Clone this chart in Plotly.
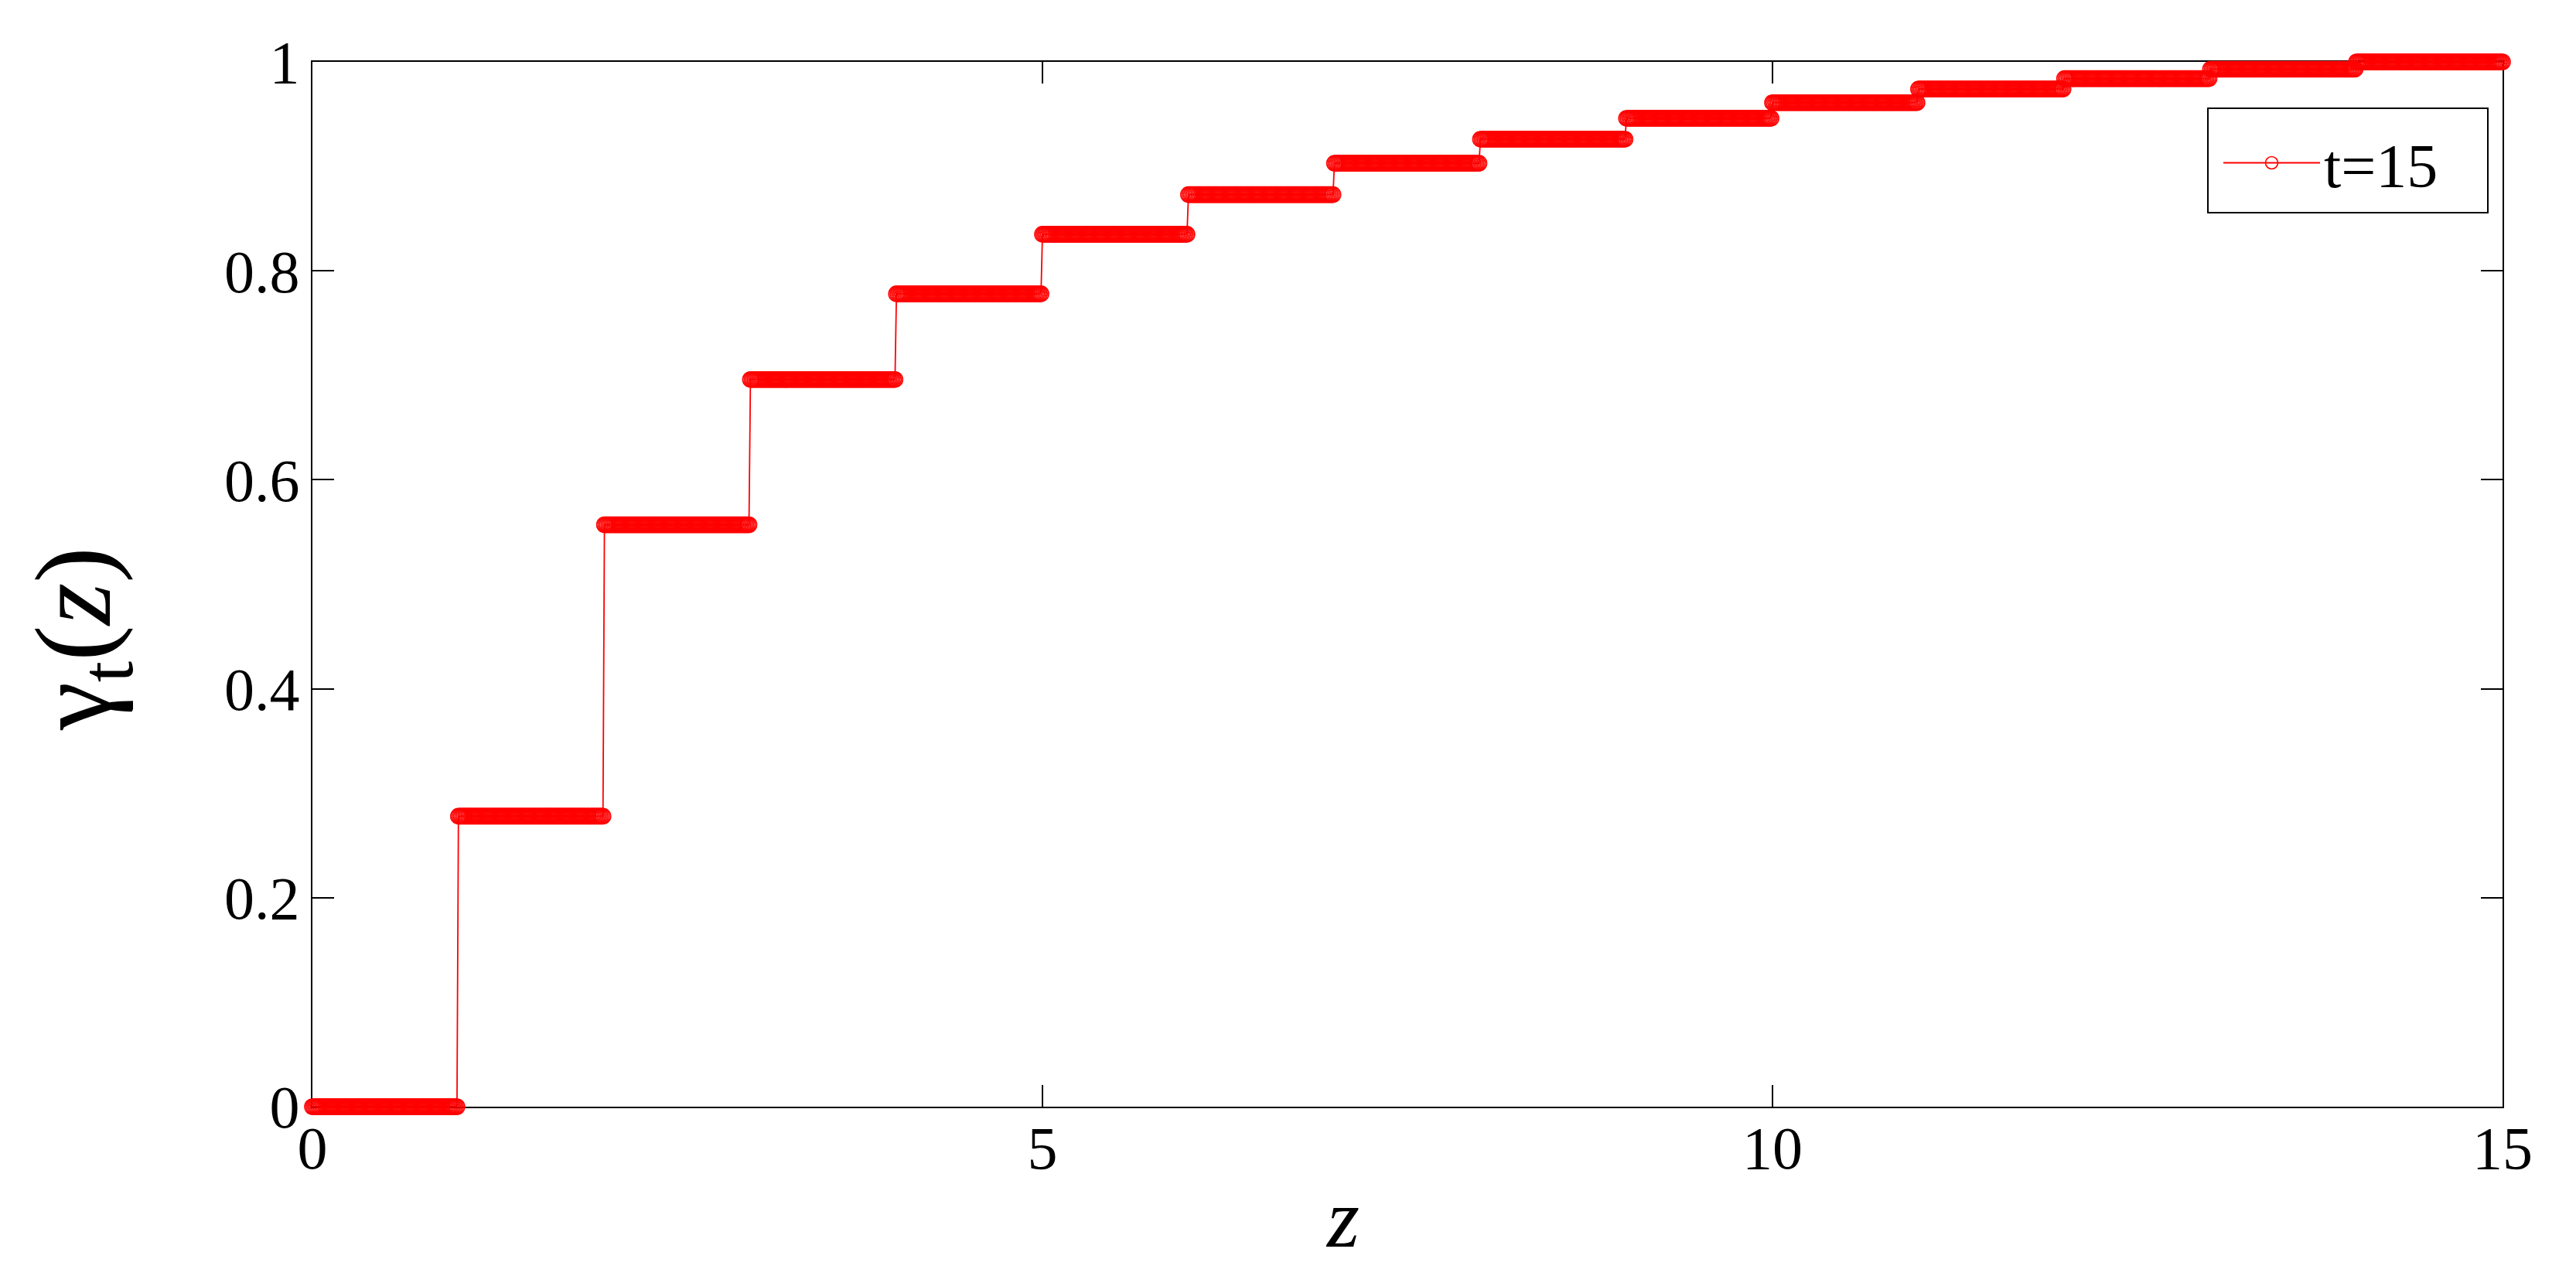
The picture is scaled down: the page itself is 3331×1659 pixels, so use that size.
import plotly.graph_objects as go
import numpy as np

# step function gamma_t(z) for t=15, one level per unit interval of z
step_starts = [0, 1, 2, 3, 4, 5, 6, 7, 8, 9, 10, 11, 12, 13, 14]
levels = [0.0, 0.278, 0.557, 0.696, 0.778, 0.835, 0.873, 0.903,
          0.926, 0.946, 0.961, 0.974, 0.984, 0.993, 1.0]
z_end = 15
dz = 0.01  # sampling interval of the plotted curve

x_ticks = [0, 5, 10, 15]
y_ticks = [0, 0.2, 0.4, 0.6, 0.8, 1]
y_ticktext = ['0', '0.2', '0.4', '0.6', '0.8', '1']

z = np.round(np.arange(0, z_end + dz / 2, dz), 4)
idx = np.searchsorted(np.array(step_starts), z, side='right') - 1
gamma = np.array(levels)[idx]

W, H = 3331, 1659
L, R, T, B = 396, 103, 72, 236
pw = W - L - R
ph = H - T - B


def px_x(v):
    return (v - L) / pw


def px_y(v):
    return (H - B - v) / ph


fig = go.Figure()
fig.add_trace(go.Scatter(
    x=z, y=gamma,
    mode='lines+markers',
    name='t=15',
    line=dict(color='#ff0000', width=1.8),
    marker=dict(symbol='circle-open', size=20, color='#ff0000',
                line=dict(width=1.6, color='#ff0000')),
    cliponaxis=False,
))

font = 'Liberation Serif, Times New Roman, serif'
axis_common = dict(
    showline=True, linecolor='black', linewidth=2,
    mirror='ticks', ticks='inside', ticklen=28, tickwidth=2, tickcolor='black',
    showgrid=False, zeroline=False, layer='below traces', automargin=False,
    tickfont=dict(family=font, size=78, color='black'),
)

fig.update_layout(
    width=W, height=H,
    margin=dict(l=L, r=R, t=T, b=B),
    plot_bgcolor='white', paper_bgcolor='white',
    xaxis=dict(range=[0, 15], tickvals=x_ticks, ticklabelstandoff=-16, **axis_common),
    yaxis=dict(range=[0, 1], tickvals=y_ticks, ticktext=y_ticktext, ticklabelstandoff=-1, **axis_common),
    showlegend=True,
    legend=dict(
        x=px_x(2862), y=px_y(144), xanchor='left', yanchor='top',
        bgcolor='rgba(0,0,0,0)', borderwidth=0,
        font=dict(family=font, size=80, color='black'),
        itemwidth=125,
    ),
)

# legend frame
fig.add_shape(
    type='rect', xref='paper', yref='paper',
    x0=px_x(2847), x1=px_x(3209), y0=px_y(267), y1=px_y(132),
    line=dict(color='black', width=2), fillcolor='rgba(0,0,0,0)',
)

fig.add_annotation(
    text='<i>z</i>', xref='paper', yref='paper',
    x=px_x(1728), y=px_y(1567),
    xanchor='center', yanchor='middle', showarrow=False,
    font=dict(family=font, size=108, color='black'),
)
fig.add_annotation(
    text='γ<sub>t</sub>(<i>z</i>)', xref='paper', yref='paper',
    x=px_x(96), y=px_y(818),
    xanchor='center', yanchor='middle', textangle=-90, showarrow=False,
    font=dict(family=font, size=140, color='black'),
)

fig.write_html('out.html')
